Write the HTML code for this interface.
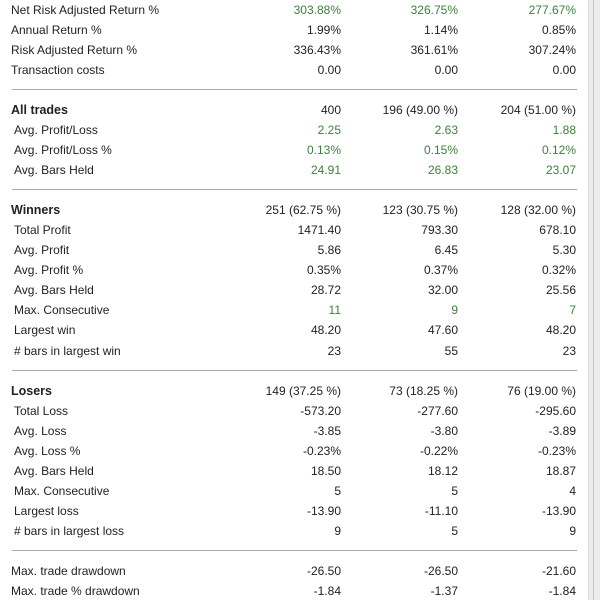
<!DOCTYPE html>
<html><head><meta charset="utf-8"><style>
body{margin:0;width:600px;height:600px;background:#fff;overflow:hidden;position:relative;font-family:"Liberation Sans",sans-serif;font-size:12px;color:#222}
.r{position:absolute;left:0;width:590px;height:20px;line-height:20px}
.l{position:absolute;left:11px}
.s .l{left:14px}
.h .l{font-weight:bold;font-size:12.5px}
.v{position:absolute;text-align:right;width:110px}
.c1{left:231px}.c2{left:348px}.c3{left:466px}
.g{color:#3f7f3f}
.hr{position:absolute;left:12px;width:565px;height:1px;background:#a8a8a8}
#edge{position:absolute;left:588px;top:0;width:12px;height:600px;background:#ececec;border-left:1px solid #d8d8d8}
#edge2{position:absolute;left:593px;top:0;width:1px;height:600px;background:#c4c4c4}
</style></head><body>
<div id="edge"></div><div id="edge2"></div>
<div id="rows"></div>
<script>
const rows=[
["Net Risk Adjusted Return %","303.88%","326.75%","277.67%","g",0],
["Annual Return %","1.99%","1.14%","0.85%","",0],
["Risk Adjusted Return %","336.43%","361.61%","307.24%","",0],
["Transaction costs","0.00","0.00","0.00","",0],
["HR"],
["All trades","400","196 (49.00 %)","204 (51.00 %)","","h"],
["Avg. Profit/Loss","2.25","2.63","1.88","g","s"],
["Avg. Profit/Loss %","0.13%","0.15%","0.12%","g","s"],
["Avg. Bars Held","24.91","26.83","23.07","g","s"],
["HR"],
["Winners","251 (62.75 %)","123 (30.75 %)","128 (32.00 %)","","h"],
["Total Profit","1471.40","793.30","678.10","","s"],
["Avg. Profit","5.86","6.45","5.30","","s"],
["Avg. Profit %","0.35%","0.37%","0.32%","","s"],
["Avg. Bars Held","28.72","32.00","25.56","","s"],
["Max. Consecutive","11","9","7","g","s"],
["Largest win","48.20","47.60","48.20","","s"],
["# bars in largest win","23","55","23","","s"],
["HR"],
["Losers","149 (37.25 %)","73 (18.25 %)","76 (19.00 %)","","h"],
["Total Loss","-573.20","-277.60","-295.60","","s"],
["Avg. Loss","-3.85","-3.80","-3.89","","s"],
["Avg. Loss %","-0.23%","-0.22%","-0.23%","","s"],
["Avg. Bars Held","18.50","18.12","18.87","","s"],
["Max. Consecutive","5","5","4","","s"],
["Largest loss","-13.90","-11.10","-13.90","","s"],
["# bars in largest loss","9","5","9","","s"],
["HR"],
["Max. trade drawdown","-26.50","-26.50","-21.60","",0],
["Max. trade % drawdown","-1.84","-1.37","-1.84","",0]
];
const host=document.getElementById('rows');
rows.forEach((r,i)=>{
  const y=i*20.03;
  if(r[0]==="HR"){
    const d=document.createElement('div');d.className='hr';d.style.top=(y+9)+'px';
    
    
    host.appendChild(d);return;
  }
  const row=document.createElement('div');
  row.className='r'+(r[5]?' '+r[5]:'');row.style.top=y+'px';
  
  
  const l=document.createElement('span');l.className='l';l.textContent=r[0];
  
  
  row.appendChild(l);
  for(let c=1;c<=3;c++){
    const v=document.createElement('span');v.className='v c'+c+(r[4]?' '+r[4]:'');v.textContent=r[c];
    
    
    row.appendChild(v);
  }
  host.appendChild(row);
});
</script>
</body></html>
